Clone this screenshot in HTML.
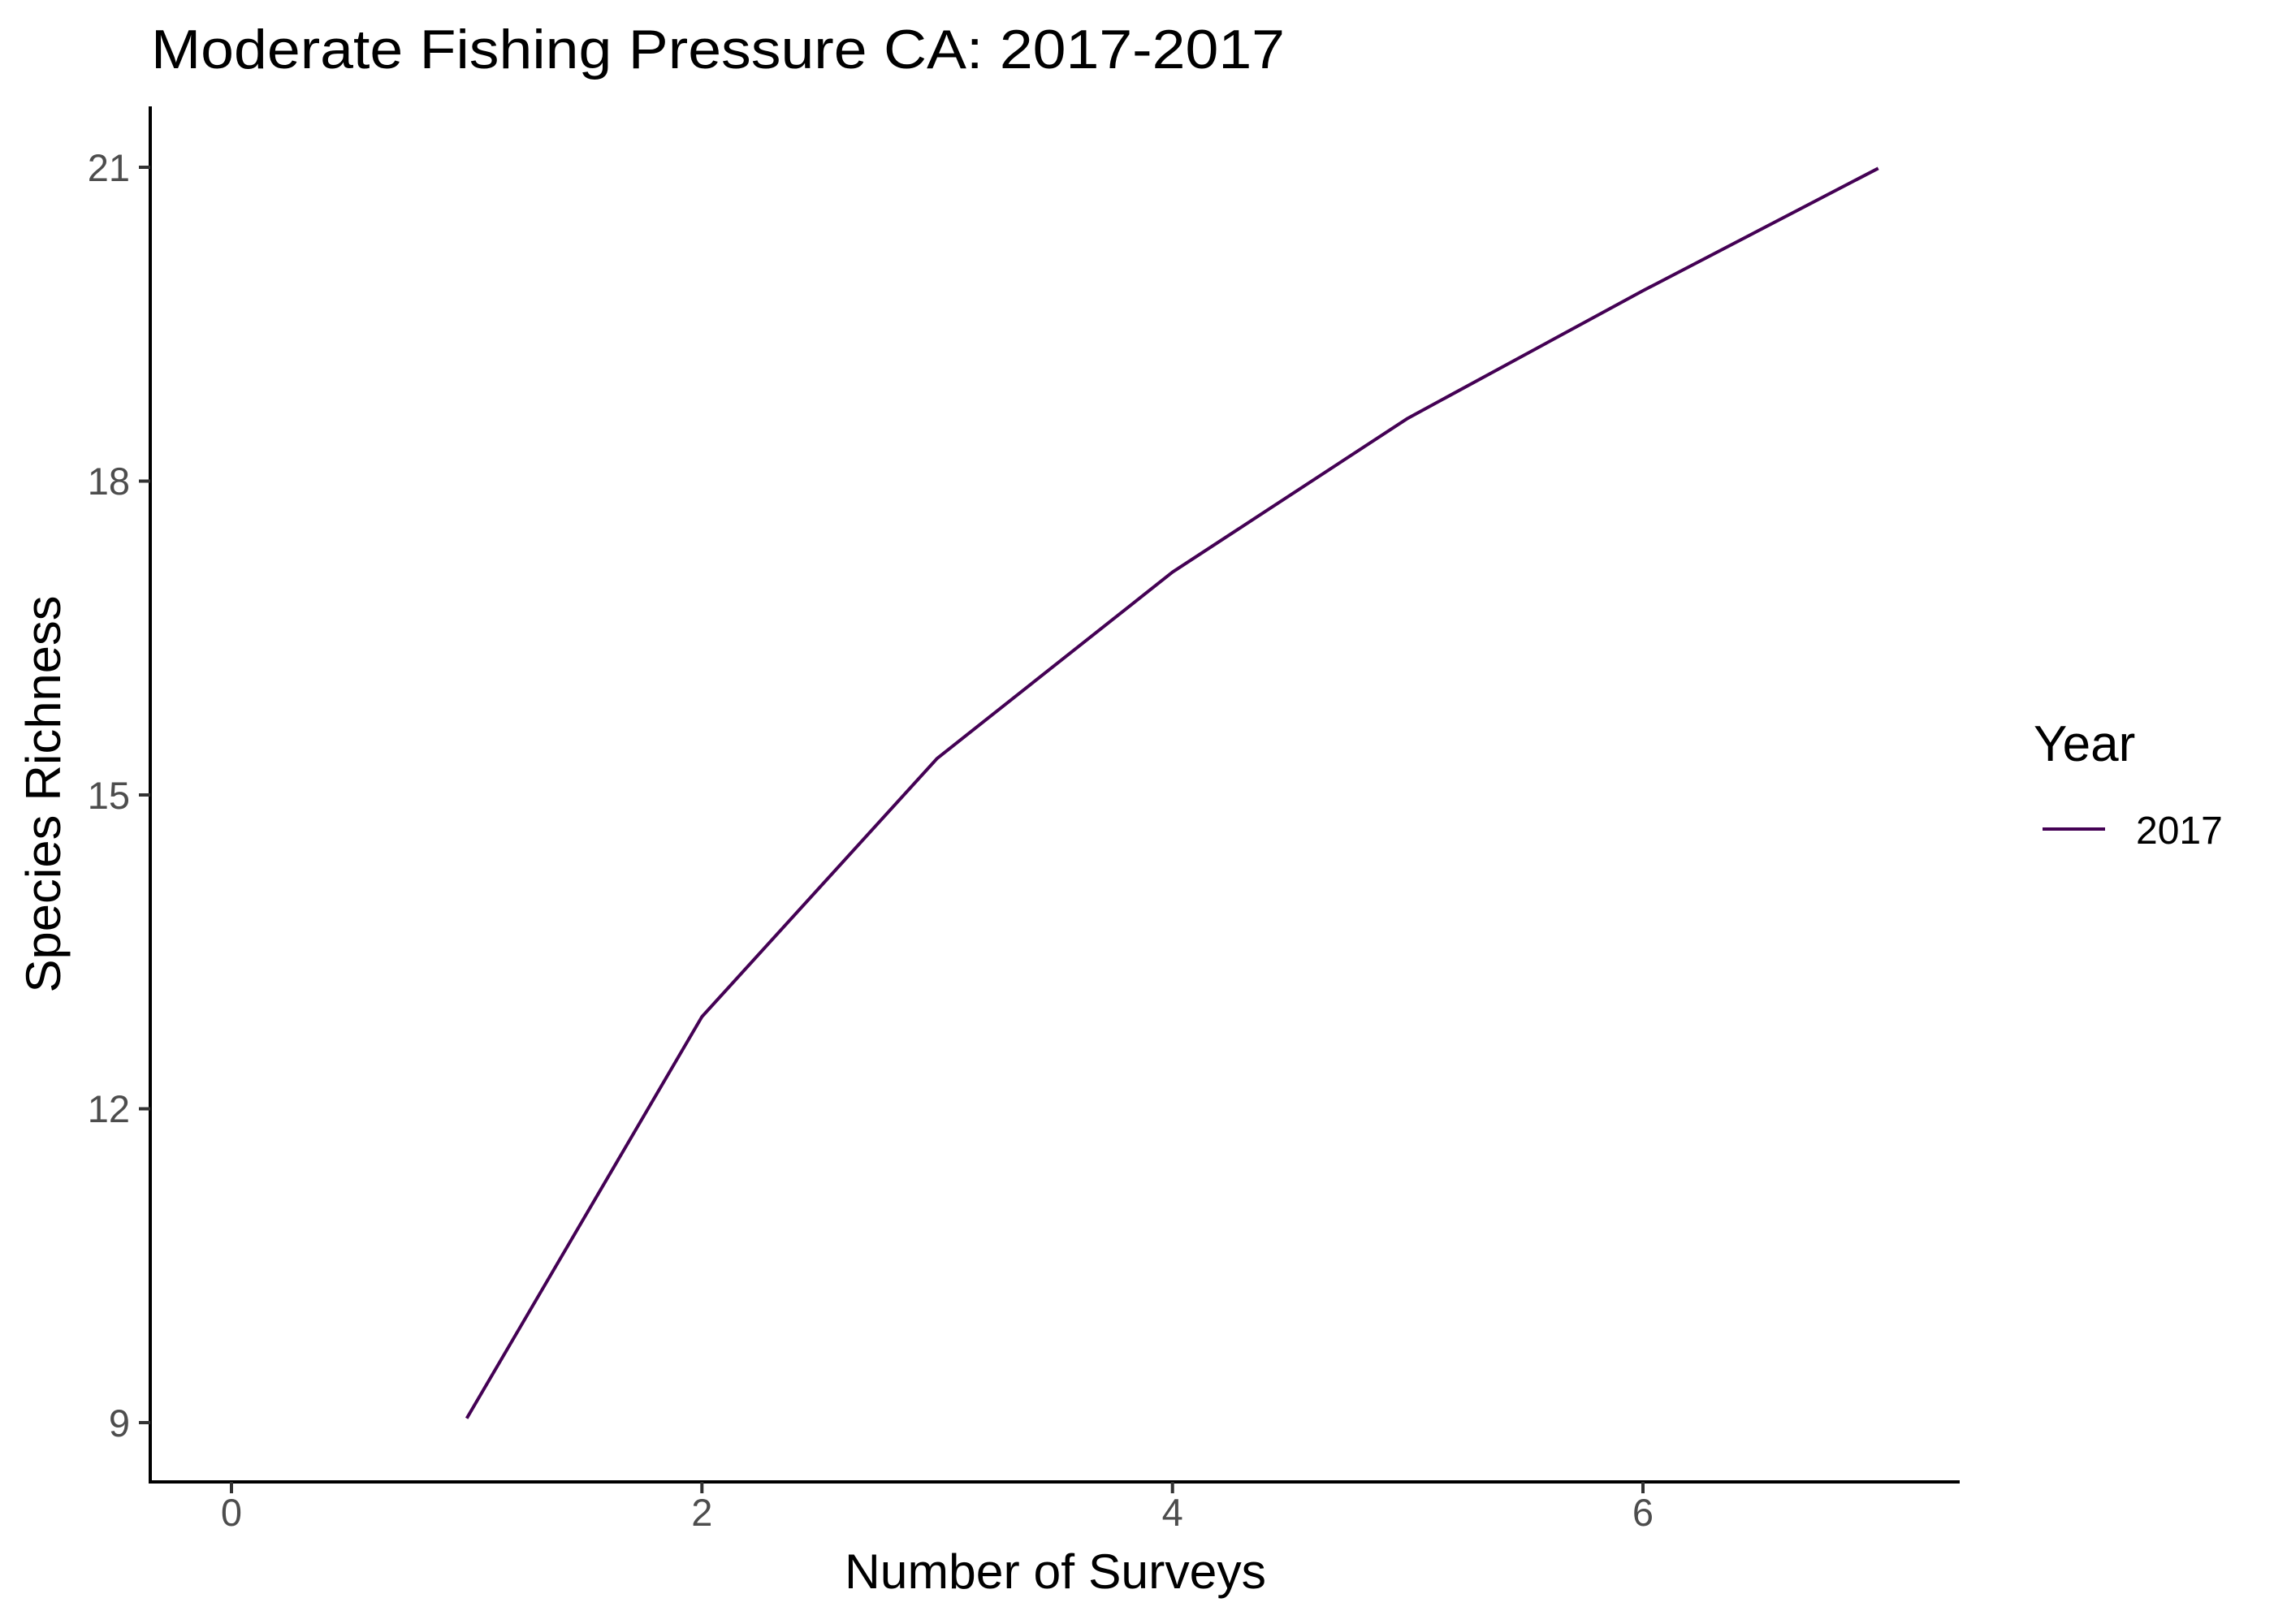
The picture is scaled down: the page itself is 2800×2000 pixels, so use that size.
<!DOCTYPE html>
<html><head><meta charset="utf-8"><style>
html,body{margin:0;padding:0;background:#fff;}
svg{display:block;}
text{font-family:"Liberation Sans",Arial,sans-serif;}
</style></head><body>
<svg width="2800" height="2000" viewBox="0 0 2800 2000" xmlns="http://www.w3.org/2000/svg">
<rect width="2800" height="2000" fill="#fff"/>
<text x="186" y="84" font-size="68" fill="#000" textLength="1396" lengthAdjust="spacingAndGlyphs">Moderate Fishing Pressure CA: 2017-2017</text>
<line x1="185" y1="131" x2="185" y2="1827" stroke="#000" stroke-width="4"/>
<line x1="183" y1="1825" x2="2413" y2="1825" stroke="#000" stroke-width="4"/>
<g stroke="#333" stroke-width="4">
<line x1="171" y1="206" x2="185" y2="206"/>
<line x1="171" y1="592.5" x2="185" y2="592.5"/>
<line x1="171" y1="979" x2="185" y2="979"/>
<line x1="171" y1="1365.5" x2="185" y2="1365.5"/>
<line x1="171" y1="1752" x2="185" y2="1752"/>
</g>
<g font-size="47" fill="#4d4d4d" text-anchor="end">
<text x="160" y="223">21</text>
<text x="160" y="609">18</text>
<text x="160" y="996">15</text>
<text x="160" y="1382">12</text>
<text x="160" y="1769">9</text>
</g>
<g stroke="#333" stroke-width="4">
<line x1="285" y1="1825" x2="285" y2="1839"/>
<line x1="864.3" y1="1825" x2="864.3" y2="1839"/>
<line x1="1443.7" y1="1825" x2="1443.7" y2="1839"/>
<line x1="2023" y1="1825" x2="2023" y2="1839"/>
</g>
<g font-size="47" fill="#4d4d4d" text-anchor="middle">
<text x="285" y="1879">0</text>
<text x="864.3" y="1879">2</text>
<text x="1443.7" y="1879">4</text>
<text x="2023" y="1879">6</text>
</g>
<text x="1040" y="1956" font-size="60" fill="#000" textLength="519" lengthAdjust="spacingAndGlyphs">Number of Surveys</text>
<text transform="translate(74,978) rotate(-90)" font-size="60" fill="#000" text-anchor="middle" textLength="489" lengthAdjust="spacingAndGlyphs">Species Richness</text>
<polyline fill="none" stroke="#440154" stroke-width="4" stroke-linejoin="round"
points="574.7,1746.8 864.3,1252.1 1154,933.9 1443.7,704.6 1733.3,515.2 2023,358 2312.7,207.3"/>
<text x="2504" y="937" font-size="62" fill="#000">Year</text>
<line x1="2515" y1="1021" x2="2592" y2="1021" stroke="#440154" stroke-width="4"/>
<text x="2630" y="1039" font-size="48" fill="#000">2017</text>
</svg>
</body></html>
